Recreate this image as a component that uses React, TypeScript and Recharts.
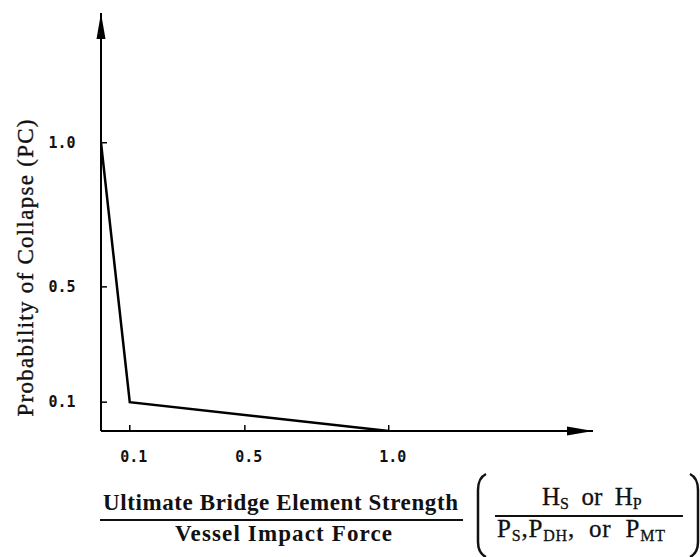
import React from "react"
import { LineChart, Line, XAxis, YAxis } from "recharts"

// values
const ratioValues = [0, 0.1, 1.0]
const collapseProb = [1.0, 0.1, 0]
const xTicks = [0.1, 0.5, 1.0]
const yTicks = [0.1, 0.5, 1.0]
const xTickLabels = ["0.1", "0.5", "1.0"]
const yTickLabels = ["0.1", "0.5", "1.0"]

const data = ratioValues.map((x, i) => ({ x, pc: collapseProb[i] }))

const tickFont = {
  fontFamily: "'DejaVu Sans Mono', monospace",
  fontWeight: 700,
  fontSize: 15,
  fill: "#111",
}
const serif = "'Liberation Serif', 'Times New Roman', serif"
const sp = "\u00A0\u00A0"

function XTick(props: any) {
  const { x, y, payload } = props
  const i = xTicks.indexOf(payload.value)
  return (
    <g>
      <line x1={x} x2={x} y1={y} y2={y - 6} stroke="#000" strokeWidth={1.5} />
      <text x={x + 4} y={y + 31} textAnchor="middle" {...tickFont}>
        {xTickLabels[i]}
      </text>
    </g>
  )
}

function YTick(props: any) {
  const { x, y, payload } = props
  const i = yTicks.indexOf(payload.value)
  return (
    <g>
      <line x1={x} x2={x + 6} y1={y} y2={y} stroke="#000" strokeWidth={1.5} />
      <text x={x - 39} y={y + 5} textAnchor="middle" {...tickFont}>
        {yTickLabels[i]}
      </text>
    </g>
  )
}

export default function App() {
  return (
    <div style={{ position: "absolute", left: 0, top: 0, width: 700, height: 557, background: "#fff" }}>
      <svg width={0} height={0} style={{ position: "absolute" }}>
        <defs>
          <marker id="arrowHead" markerUnits="userSpaceOnUse" markerWidth={26} markerHeight={10}
            refX={26} refY={5} orient="auto-start-reverse">
            <path d="M0,0.5 L26,5 L0,9.5 Z" fill="#000" />
          </marker>
        </defs>
      </svg>
      <LineChart
        width={700}
        height={557}
        data={data}
        margin={{ top: 13, right: 107, left: 41, bottom: 96 }}
      >
        <XAxis
          dataKey="x"
          type="number"
          domain={[0, 1.71]}
          ticks={xTicks}
          height={30}
          tickSize={0}
          tickMargin={0}
          tickLine={false}
          tick={<XTick />}
          axisLine={{ stroke: "#000", strokeWidth: 2, markerEnd: "url(#arrowHead)" }}
          allowDataOverflow
        />
        <YAxis
          type="number"
          domain={[0, 1.45]}
          ticks={yTicks}
          width={60}
          tickSize={0}
          tickMargin={0}
          tickLine={false}
          tick={<YTick />}
          axisLine={{ stroke: "#000", strokeWidth: 2, markerStart: "url(#arrowHead)" }}
          allowDataOverflow
        />
        <Line
          dataKey="pc"
          type="linear"
          stroke="#000"
          strokeWidth={2.5}
          dot={false}
          activeDot={false}
          isAnimationActive={false}
        />
      </LineChart>
      <svg width={700} height={557} style={{ position: "absolute", left: 0, top: 0, pointerEvents: "none" }}>
        <text
          transform="translate(33,268) rotate(-90)"
          textAnchor="middle"
          fontFamily={serif}
          fontSize={23}
          fill="#111"
          stroke="#111"
          strokeWidth={0.4}
          textLength={297}
        >
          Probability of Collapse (PC)
        </text>
        <text x={103} y={510} fontFamily={serif} fontSize={23} fontWeight={700} fill="#111" textLength={355}>
          Ultimate Bridge Element Strength
        </text>
        <line x1={100} x2={463} y1={520} y2={520} stroke="#111" strokeWidth={2} />
        <text x={175} y={541} fontFamily={serif} fontSize={23} fontWeight={700} fill="#111" textLength={217}>
          Vessel Impact Force
        </text>
        <path d="M486,474 Q478,478 478,490 L478,542 Q478,553 486,557" fill="none" stroke="#111" strokeWidth={2.5} />
        <path d="M690,474 Q698,478 698,490 L698,542 Q698,553 690,557" fill="none" stroke="#111" strokeWidth={2.5} />
        <text x={542} y={505} fontFamily={serif} fontSize={25} fill="#111" stroke="#111" strokeWidth={0.3}>
          H<tspan fontSize={16} dy={4}>S</tspan>
          <tspan dy={-4}>{sp + "or" + sp + "H"}</tspan>
          <tspan fontSize={16} dy={4}>P</tspan>
        </text>
        <line x1={495} x2={683} y1={516} y2={516} stroke="#111" strokeWidth={2} />
        <text x={497} y={537} fontFamily={serif} fontSize={25} fill="#111" stroke="#111" strokeWidth={0.3} letterSpacing={0.8}>
          P<tspan fontSize={16} dy={4}>S</tspan>
          <tspan dy={-4}>,P</tspan>
          <tspan fontSize={16} dy={4}>DH</tspan>
          <tspan dy={-4}>{"," + sp + "or" + sp + "P"}</tspan>
          <tspan fontSize={16} dy={4}>MT</tspan>
        </text>
      </svg>
    </div>
  )
}
